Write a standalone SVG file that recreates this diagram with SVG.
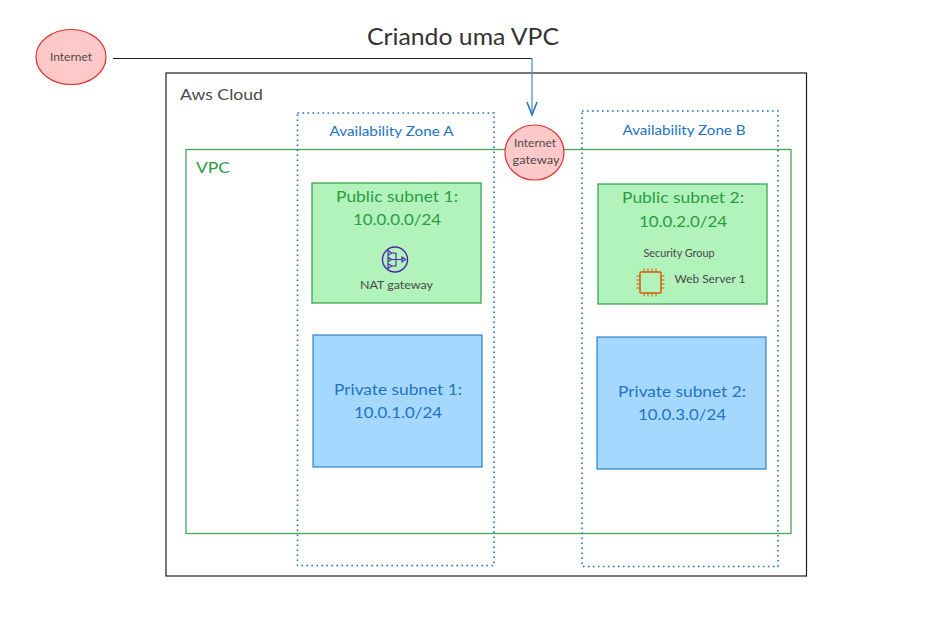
<svg xmlns="http://www.w3.org/2000/svg" width="927" height="632" viewBox="0 0 927 632">
<style>
text{font-family:"Lato","Noto Sans",sans-serif;text-anchor:middle}
.dark{fill:#4a4a4a}
.grn{fill:#2a9d44}
.blu{fill:#2273c6}
.pub{fill:#b2f2bb;stroke:#3fa650;stroke-width:1.3}
.prv{fill:#a5d8ff;stroke:#1971c2;stroke-width:1.3;stroke-opacity:.8}
.az{fill:none;stroke:#1971c2;stroke-width:1.6;stroke-dasharray:1.6 3.4}
.ell{fill:#ffc9c9;stroke:#e03131;stroke-width:1.2}
</style>
<rect width="927" height="632" fill="#fff"/>
<g id="title"><text x="463" y="45" font-size="24" class="dark" textLength="192" lengthAdjust="spacingAndGlyphs" style="fill:#333">Criando uma VPC</text></g>
<g id="aws-cloud"><rect x="166" y="73" width="640.500" height="503" fill="none" stroke="#1e1e1e" stroke-width="1.2"/><text x="221.500" y="100" font-size="16" class="dark" textLength="83" lengthAdjust="spacingAndGlyphs">Aws Cloud</text></g>
<g id="vpc"><rect x="186" y="149.500" width="605" height="384" fill="none" stroke="#2f9e44" stroke-width="1.3" stroke-opacity=".9"/><text x="213" y="173" font-size="16" class="grn" textLength="34" lengthAdjust="spacingAndGlyphs">VPC</text></g>
<g id="public-subnet-1"><rect x="312" y="183" width="169" height="120" class="pub"/><text x="397" y="202" font-size="16" class="grn" textLength="122" lengthAdjust="spacingAndGlyphs">Public subnet 1:</text><text x="397" y="225" font-size="16" class="grn" textLength="88" lengthAdjust="spacingAndGlyphs">10.0.0.0/24</text></g>
<g id="private-subnet-1"><rect x="313" y="335" width="169" height="132" class="prv"/><text x="398" y="395" font-size="16" class="blu" textLength="128" lengthAdjust="spacingAndGlyphs">Private subnet 1:</text><text x="398" y="418" font-size="16" class="blu" textLength="88" lengthAdjust="spacingAndGlyphs">10.0.1.0/24</text></g>
<g id="public-subnet-2"><rect x="598" y="184" width="169" height="120" class="pub"/><text x="683" y="203" font-size="16" class="grn" textLength="122" lengthAdjust="spacingAndGlyphs">Public subnet 2:</text><text x="683" y="227" font-size="16" class="grn" textLength="88" lengthAdjust="spacingAndGlyphs">10.0.2.0/24</text></g>
<g id="private-subnet-2"><rect x="597" y="337" width="169" height="132" class="prv"/><text x="682" y="397" font-size="16" class="blu" textLength="128" lengthAdjust="spacingAndGlyphs">Private subnet 2:</text><text x="682" y="420" font-size="16" class="blu" textLength="88" lengthAdjust="spacingAndGlyphs">10.0.3.0/24</text></g>
<g id="zone-a"><rect x="297.500" y="113" width="196.500" height="452.500" class="az"/><text x="391.500" y="136" font-size="13.500" class="blu" textLength="124" lengthAdjust="spacingAndGlyphs">Availability Zone A</text></g>
<g id="zone-b"><rect x="582" y="111" width="196" height="455.500" class="az"/><text x="684" y="135" font-size="13.500" class="blu" textLength="123" lengthAdjust="spacingAndGlyphs">Availability Zone B</text></g>
<g id="connectors" fill="none">
<path d="M113 58.500H532" stroke="#1e1e1e" stroke-width="1.2"/>
<path d="M532 58.500V113" stroke="#4a94d8" stroke-width="1.3"/>
<path d="M527 102L532 115L537 102" stroke="#1971c2" stroke-width="1.5"/>
</g>
<g id="internet"><ellipse cx="71" cy="57" rx="35" ry="27.500" class="ell"/><text x="71" y="61" font-size="11.500" class="dark" textLength="42" lengthAdjust="spacingAndGlyphs">Internet</text></g>
<g id="internet-gateway"><ellipse cx="534.500" cy="152.500" rx="29.500" ry="27.500" class="ell"/><text x="535" y="147" font-size="11.500" class="dark" textLength="42" lengthAdjust="spacingAndGlyphs">Internet</text><text x="536" y="164" font-size="11.500" class="dark" textLength="47" lengthAdjust="spacingAndGlyphs">gateway</text></g>
<g id="nat-gateway"><circle cx="395" cy="259.500" r="12.500" fill="none" stroke="#4d27aa" stroke-width="1.4"/><path d="M391 253H396V266H391M396 259.500H402M391 259.500H396" fill="none" stroke="#4d27aa" stroke-width="1.1"/><path d="M388 250.500L391.500 253L388 255.500ZM388 257L391.500 259.500L388 262ZM388 263.500L391.500 266L388 268.500ZM402 257L405.500 259.500L402 262Z" fill="none" stroke="#4d27aa" stroke-width="1.1"/><text x="396.500" y="289" font-size="12" class="dark" textLength="73" lengthAdjust="spacingAndGlyphs">NAT gateway</text></g>
<g id="security-group"><text x="679" y="257" font-size="10.500" class="dark" textLength="71" lengthAdjust="spacingAndGlyphs">Security Group</text></g>
<g id="web-server-1"><rect x="640" y="272" width="21" height="21" rx="1" fill="none" stroke="#d45b07" stroke-width="1.5"/><path d="M644 272v-3.500M648 272v-3.500M652 272v-3.500M656 272v-3.500M644 293v3.500M648 293v3.500M652 293v3.500M656 293v3.500M640 276h-3.500M640 280h-3.500M640 284h-3.500M640 288h-3.500M661 276h3.500M661 280h3.500M661 284h3.500M661 288h3.500" stroke="#d45b07" stroke-width="1" fill="none"/><text x="710" y="283" font-size="12" class="dark" textLength="71" lengthAdjust="spacingAndGlyphs">Web Server 1</text></g>
</svg>
